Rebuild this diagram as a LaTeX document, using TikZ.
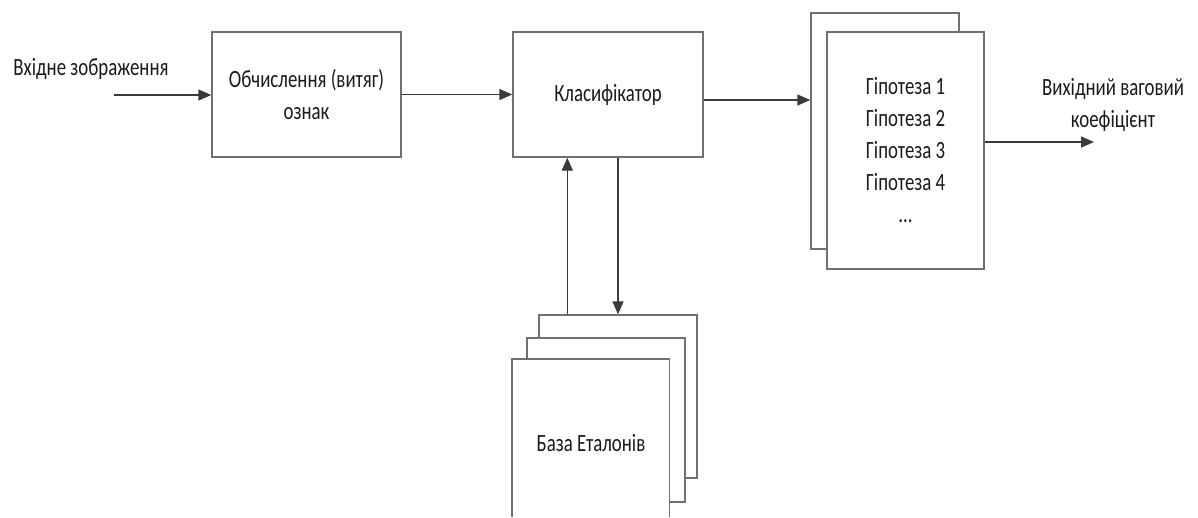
\documentclass[tikz,border=0pt]{standalone}
\usepackage{fontspec}
\setmainfont{Carlito}[FakeStretch=0.76]
\usetikzlibrary{arrows.meta}
\definecolor{boxline}{HTML}{707070}
\definecolor{arrline}{HTML}{3A3A3A}
\definecolor{ink}{HTML}{1A1A1A}
\tikzset{
  box/.style={draw=boxline, line width=1.4pt, fill=white, inner sep=0pt,
              text=ink, align=center},
  arr/.style={draw=arrline, line width=1.4pt,
              -{Triangle[length=13pt,width=11pt]}},
  lbl/.style={text=ink, align=center, inner sep=0pt},
}
\begin{document}
\begin{tikzpicture}[x=1pt, y=-1pt,
  every node/.append style={font=\fontsize{24.8}{32}\selectfont}]
\useasboundingbox (0,0) rectangle (1198,517);

% feature extraction and classifier
\node[box, minimum width=189pt, minimum height=125pt] (feat) at (306.5,94.5)
  {Обчислення (витяг)\\ознак};
\node[box, minimum width=190pt, minimum height=125pt] (cls) at (608,94.5)
  {Класифікатор};

% stacked hypotheses
\node[box, minimum width=148pt, minimum height=236pt] (hypback) at (885,131) {};
\node[box, minimum width=157pt, minimum height=237pt] (hyp) at (905.5,150.5)
  {Гіпотеза 1\\Гіпотеза 2\\Гіпотеза 3\\Гіпотеза 4\\...};

% stacked reference database
\node[box, minimum width=158pt, minimum height=163pt] (dbback) at (618,396.5) {};
\node[box, minimum width=158pt, minimum height=164pt] (dbmid) at (606,420) {};
\node[fill=white, inner sep=0pt, minimum width=157pt, minimum height=158pt] (db) at (590.5,438) {};
\draw[draw=boxline, line width=1.4pt]
  (db.south west) -- (db.north west) -- (db.north east) -- (db.south east);
\node[lbl] (dbtext) at ([xshift=0.5pt,yshift=-5pt]db.center) {База Еталонів};

% free labels
\node[lbl] (inlbl) at (91,69) {Вхідне зображення};
\node[lbl] (outlbl) at (1113,105) {Вихідний ваговий\\коефіцієнт};

\coordinate (in) at (114,95);
\coordinate (out) at (1094,142);

% connectors
\draw[arr] (in) -- (in -| feat.west);
\draw[arr] (feat.east) -- (cls.west);
\draw[arr] ([yshift=-5.5pt]cls.east) -- ([yshift=-5.5pt]cls.east -| hypback.west);
\draw[arr] (out -| hyp.east) -- (out);
\draw[arr] ([xshift=29pt]dbback.north west) -- ([xshift=29pt]dbback.north west |- cls.south);
\draw[arr] (cls.south -| dbback.north) -- (dbback.north);
\end{tikzpicture}
\end{document}
